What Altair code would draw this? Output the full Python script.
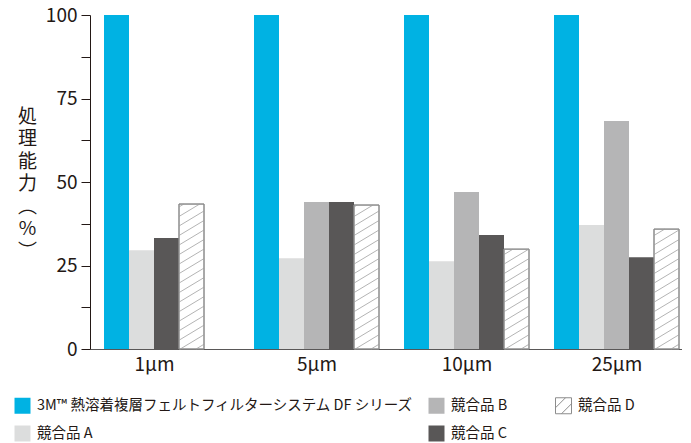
import altair as alt
import pandas as pd

# ---------------- data ----------------
sizes = ["1µm", "5µm", "10µm", "25µm"]
series = [
    "3M™ 熱溶着複層フェルトフィルターシステム DF シリーズ",
    "競合品 A",
    "競合品 B",
    "競合品 C",
    "競合品 D",
]
vals_3m = [100, 100, 100, 100]
vals_a = [29.6, 27.2, 26.3, 37.1]
vals_b = [None, 44.0, 47.0, 68.3]
vals_c = [33.2, 44.0, 34.1, 27.5]
vals_d = [43.4, 43.1, 29.9, 35.9]
fill_colors = ["#00b2e3", "#dcdddd", "#b5b5b6", "#595757", "#ffffff"]
y_ticks = [0, 12.5, 25, 37.5, 50, 62.5, 75, 87.5, 100]
y_title = ["処", "理", "能", "力", "︵", "%", "︶"]

FONT = "Noto Sans CJK JP"
TEXT = "#231815"
GROUP = 6          # bar slots per group (5 bars + 1 gap)
HATCH_SPACING = 2.85
HATCH_RISE = 4.5
HATCH_PATH = "M-1,-1H1V1H-1Z M-1,0.25L0.25,-1 M-0.25,1L1,-0.25"
PLOT_W = 592
UNIT_PX = 25.0

# ---------------- tables ----------------
rows = []
for g, size in enumerate(sizes):
    slot = 0
    for s, vals in zip(series, [vals_3m, vals_a, vals_b, vals_c, vals_d]):
        v = vals[g]
        if v is None:
            continue
        x0 = g * GROUP + slot
        rows.append(dict(size=size, series=s, value=v, x0=x0, x1=x0 + 1, xm=x0 + 0.5))
        slot += 1
df = pd.DataFrame(rows)

center_vals = []
for s in sizes:
    d = df[df["size"] == s]
    center_vals.append(float((d["x0"].min() + d["x1"].max()) / 2))
label_expr = "''"
for cv, s in zip(reversed(center_vals), reversed(sizes)):
    label_expr = f"datum.value == {cv} ? '{s}' : ({label_expr})"

hatch = []
for r in df[df["series"] == series[4]].itertuples():
    b = -HATCH_RISE + HATCH_SPACING * 0.5
    while b < r.value:
        t0 = max(0.0, -b / HATCH_RISE)
        t1 = min(1.0, (r.value - b) / HATCH_RISE)
        if t1 > t0:
            hatch.append(dict(hx=r.x0 + t0, hx2=r.x0 + t1,
                              hy=b + HATCH_RISE * t0, hy2=b + HATCH_RISE * t1))
        b += HATCH_SPACING
hdf = pd.DataFrame(hatch)

# legend is laid out column-major in 2 rows: 3M, A | B, C | D
order = series
color_scale = alt.Scale(domain=order, range=fill_colors)
stroke_scale = alt.Scale(domain=order, range=["transparent", "transparent", "transparent",
                                              "transparent", "#8c8c8c"])
shape_scale = alt.Scale(domain=order, range=["square", "square", "square",
                                             "square", HATCH_PATH])

BLANK = "\u2800" * 3
legend_label_expr = (
    f"(datum.value == '{series[2]}' || datum.value == '{series[3]}')"
    f" ? datum.label + '{BLANK}' : datum.label"
)
legend = alt.Legend(
    title=None, orient="none", legendX=-76, legendY=382, columns=3,
    columnPadding=12, rowPadding=7, symbolSize=256, symbolStrokeWidth=1,
    labelFont=FONT, labelFontSize=14.5, labelColor=TEXT, labelOffset=6,
    labelLimit=600, labelExpr=legend_label_expr,
)

x_start = -0.56
x_scale = alt.Scale(domain=[x_start, x_start + PLOT_W / UNIT_PX], nice=False, zero=False)
y_scale = alt.Scale(domain=[0, 100], nice=False)

x_axis = alt.Axis(
    values=center_vals, labelExpr=label_expr, ticks=False, grid=False, title=None,
    domainColor="#595757", domainWidth=1, labelFont=FONT, labelFontSize=19,
    labelColor=TEXT, labelPadding=6, labelFlush=False, labelOverlap=False,
)
y_axis = alt.Axis(
    values=y_ticks, labelExpr="datum.value % 25 == 0 ? datum.label : ''",
    grid=False, domainColor=TEXT, tickColor=TEXT, tickSize=9, tickWidth=1,
    labelFont=FONT, labelFontSize=19, labelColor=TEXT, labelPadding=4,
    title=y_title, titleAngle=0, titleX=-63, titleY=92, titleAlign="center",
    titleBaseline="top", titleFont=FONT, titleFontSize=19, titleLineHeight=22.5,
    titleFontWeight="normal", titleColor=TEXT,
)

bars = alt.Chart(df).mark_bar(strokeWidth=1).encode(
    x=alt.X("x0:Q", scale=x_scale, axis=x_axis),
    x2="x1:Q",
    y=alt.Y("value:Q", scale=y_scale, axis=y_axis),
    y2=alt.datum(0),
    color=alt.Color("series:N", scale=color_scale, legend=legend),
    stroke=alt.Stroke("series:N", scale=stroke_scale, legend=legend),
)

hatch_lines = alt.Chart(hdf).mark_rule(color="#b4b4b4", strokeWidth=1).encode(
    x=alt.X("hx:Q", scale=x_scale),
    x2="hx2:Q",
    y=alt.Y("hy:Q", scale=y_scale),
    y2="hy2:Q",
)

outline = alt.Chart(df[df["series"] == series[4]]).mark_bar(
    fillOpacity=0, stroke="#8c8c8c", strokeWidth=1
).encode(
    x=alt.X("x0:Q", scale=x_scale),
    x2="x1:Q",
    y=alt.Y("value:Q", scale=y_scale),
    y2=alt.datum(0),
)

shape_pts = alt.Chart(df).mark_point(opacity=0).encode(
    x=alt.X("xm:Q", scale=x_scale),
    y=alt.Y("value:Q", scale=y_scale),
    shape=alt.Shape("series:N", scale=shape_scale, legend=legend),
)

chart = (
    alt.layer(bars, hatch_lines, outline, shape_pts)
    .properties(width=PLOT_W, height=334,
                padding={"left": 6, "top": -2, "right": 0, "bottom": 0})
    .configure_view(stroke=None)
)

chart.save("out.html", embed_options={"renderer": "svg", "actions": False})
